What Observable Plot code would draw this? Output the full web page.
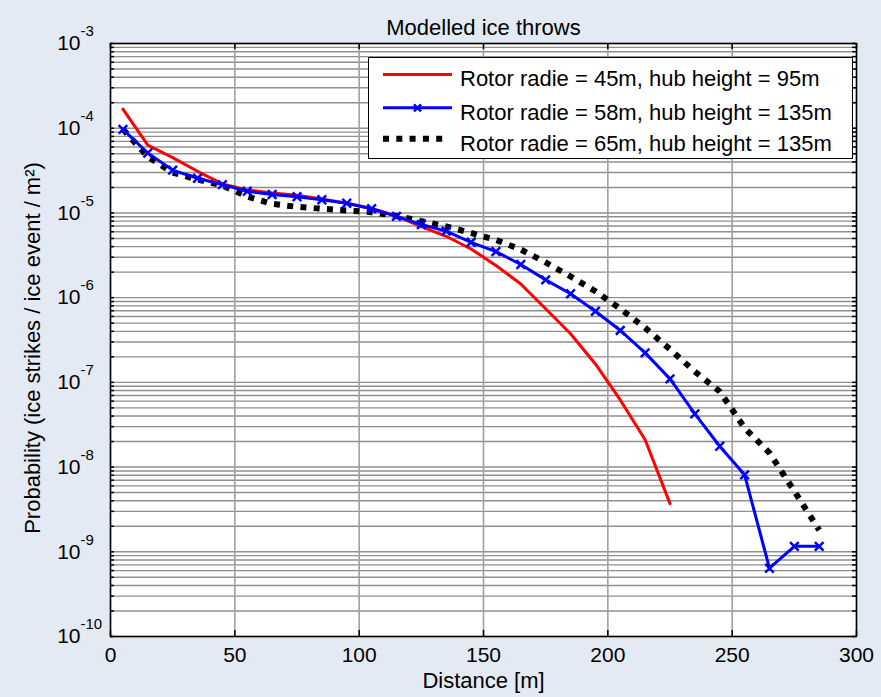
<!DOCTYPE html>
<html>
<head>
<meta charset="utf-8">
<script src="https://cdn.jsdelivr.net/npm/d3@7"></script>
<script src="https://cdn.jsdelivr.net/npm/@observablehq/plot@0.6"></script>
<style>
  html, body { margin: 0; padding: 0; background: #e4eaf3; }
  #wrap { position: relative; width: 881px; height: 697px; font-family: "Liberation Sans", Arial, sans-serif; }
  #legend { position: absolute; left: 368px; top: 57px; width: 485px; height: 102px; background: #fff; border: 1.5px solid #000; box-sizing: border-box; }
</style>
</head>
<body>
<div id="wrap"><div id="legend"></div></div>
<script>
// ---- data ----
const titleText = "Modelled ice throws";
const xLabel = "Distance [m]";
const yLabel = "Probability (ice strikes / ice event / m\u00B2)";
const seriesNames = [
  "Rotor radie = 45m, hub height = 95m",
  "Rotor radie = 58m, hub height = 135m",
  "Rotor radie = 65m, hub height = 135m"
];
const seriesColors = ["#ff0000", "#0000ff", "#000000"];

const distRed = [5,15,25,35,45,55,65,75,85,95,105,115,125,135,145,155,165,175,185,195,205,215,225];
const probRed = [1.68e-4,6.3e-5,4.5e-5,3.1e-5,2.2e-5,1.87e-5,1.72e-5,1.62e-5,1.46e-5,1.30e-5,1.13e-5,9.2e-6,6.9e-6,5.3e-6,3.75e-6,2.4e-6,1.45e-6,7.4e-7,3.75e-7,1.65e-7,6.2e-8,2.1e-8,3.7e-9];

const distBlue = [5,15,25,35,45,55,65,75,85,95,105,115,125,135,145,155,165,175,185,195,205,215,225,235,245,255,265,275,285];
const probBlue = [9.7e-5,5.1e-5,3.2e-5,2.57e-5,2.16e-5,1.80e-5,1.65e-5,1.55e-5,1.43e-5,1.30e-5,1.12e-5,9.1e-6,7.3e-6,6.1e-6,4.5e-6,3.5e-6,2.46e-6,1.62e-6,1.11e-6,6.9e-7,4.1e-7,2.23e-7,1.1e-7,4.25e-8,1.76e-8,8.1e-9,6.4e-10,1.16e-9,1.16e-9];

const distBlack = [5,15,25,35,45,55,65,75,85,95,105,115,125,135,145,155,165,175,185,195,205,215,225,235,245,255,265,275,285];
const probBlack = [9.7e-5,4.6e-5,3.0e-5,2.48e-5,2.11e-5,1.56e-5,1.28e-5,1.18e-5,1.12e-5,1.07e-5,1.02e-5,9.2e-6,8.0e-6,6.95e-6,5.8e-6,4.8e-6,3.7e-6,2.6e-6,1.78e-6,1.19e-6,7.4e-7,4.4e-7,2.46e-7,1.34e-7,7.8e-8,2.9e-8,1.47e-8,5.2e-9,1.8e-9];

const xDomain = [0, 300];
const xTicks = [0, 50, 100, 150, 200, 250, 300];
const yDecades = [1e-10, 1e-9, 1e-8, 1e-7, 1e-6, 1e-5, 1e-4, 1e-3];
const yDomain = [1e-10, 1e-3];

// ---- build ----
const minorY = [];
for (let k = -10; k < -3; k++) for (let m = 1; m <= 9; m++) minorY.push(m * Math.pow(10, k));
minorY.push(1e-3);

const red = distRed.map((d, i) => ({x: d, y: probRed[i]}));
const blue = distBlue.map((d, i) => ({x: d, y: probBlue[i]}));
const black = distBlack.map((d, i) => ({x: d, y: probBlack[i]}));

const font = "'Liberation Sans', Arial, sans-serif";
const tickLenX = 1.6;         // in x units (~4px)
const tickFacY = 1.18;        // multiplicative (~6px on log)

const plot = Plot.plot({
  width: 881, height: 697,
  marginLeft: 110, marginRight: 25, marginTop: 43, marginBottom: 61,
  style: {background: "transparent", fontFamily: font, color: "#000", overflow: "visible"},
  x: {domain: xDomain, axis: null},
  y: {type: "log", domain: yDomain, axis: null},
  marks: [
    Plot.frame({fill: "#fff", stroke: null}),
    Plot.ruleY(minorY, {stroke: "#8f8f8f", strokeWidth: 1.4}),
    Plot.ruleX(xTicks, {stroke: "#a0a0a0", strokeWidth: 1.6}),
    // inward ticks
    Plot.ruleY(minorY, {x1: xDomain[0], x2: xDomain[0] + tickLenX, stroke: "#000", strokeWidth: 1.5}),
    Plot.ruleY(minorY, {x1: xDomain[1] - tickLenX, x2: xDomain[1], stroke: "#000", strokeWidth: 1.5}),
    Plot.ruleX(xTicks, {y1: yDomain[0], y2: yDomain[0] * tickFacY, stroke: "#000", strokeWidth: 1.5}),
    Plot.ruleX(xTicks, {y1: yDomain[1] / tickFacY, y2: yDomain[1], stroke: "#000", strokeWidth: 1.5}),
    // series
    Plot.line(black, {x: "x", y: "y", stroke: seriesColors[2], strokeWidth: 6, strokeDasharray: "6 7.3", strokeLinecap: "butt", strokeLinejoin: "miter"}),
    Plot.line(red, {x: "x", y: "y", stroke: seriesColors[0], strokeWidth: 3}),
    Plot.line(blue, {x: "x", y: "y", stroke: seriesColors[1], strokeWidth: 3}),
    Plot.dot(blue, {x: "x", y: "y", symbol: "times", r: 4, stroke: seriesColors[1], strokeWidth: 2.5}),
    Plot.frame({stroke: "#000", strokeWidth: 1.5}),
    // x tick labels
    Plot.text(xTicks, {x: d => d, frameAnchor: "bottom", dy: 25, text: d => String(d), fontSize: 21, fill: "#000"}),
    // y tick labels 10^k
    Plot.text(yDecades, {y: d => d, frameAnchor: "left", dx: -30, textAnchor: "end", text: () => "10", fontSize: 21, fill: "#000"}),
    Plot.text(yDecades, {y: d => d, frameAnchor: "left", dx: -30, dy: -12, textAnchor: "start", text: d => String(Math.round(Math.log10(d))), fontSize: 15, fill: "#000"}),
    // title & labels
    Plot.text([titleText], {frameAnchor: "top", dy: -24, fontSize: 22, fill: "#000"}),
    Plot.text([xLabel], {frameAnchor: "bottom", dy: 51, fontSize: 22, fill: "#000"}),
    Plot.text([yLabel], {frameAnchor: "left", textAnchor: "middle", dx: -78, dy: 8, rotate: -90, fontSize: 22, fill: "#000"})
  ]
});
document.getElementById("wrap").prepend(plot);

// ---- legend ----
const lg = d3.select("#legend").append("svg").attr("width", 482).attr("height", 99)
  .style("position", "absolute").style("left", 0).style("top", 0);
const rowY = [16.5, 49.8, 80.8];
seriesNames.forEach((name, i) => {
  const g = lg.append("g");
  const y = rowY[i];
  if (i === 2) {
    g.append("line").attr("x1", 14).attr("x2", 79).attr("y1", y).attr("y2", y)
      .attr("stroke", seriesColors[i]).attr("stroke-width", 6).attr("stroke-dasharray", "6 7.3");
  } else {
    g.append("line").attr("x1", 14).attr("x2", 83).attr("y1", y).attr("y2", y)
      .attr("stroke", seriesColors[i]).attr("stroke-width", 3);
  }
  if (i === 1) {
    const cx = 48.5, s = 3.5;
    g.append("path").attr("d", `M${cx - s},${y - s}L${cx + s},${y + s}M${cx - s},${y + s}L${cx + s},${y - s}`)
      .attr("stroke", seriesColors[i]).attr("stroke-width", 2.5).attr("fill", "none");
  }
  g.append("text").attr("x", 91).attr("y", y + 11.7).attr("font-size", 22)
    .attr("font-family", font).attr("fill", "#000").text(name);
});
</script>
</body>
</html>
